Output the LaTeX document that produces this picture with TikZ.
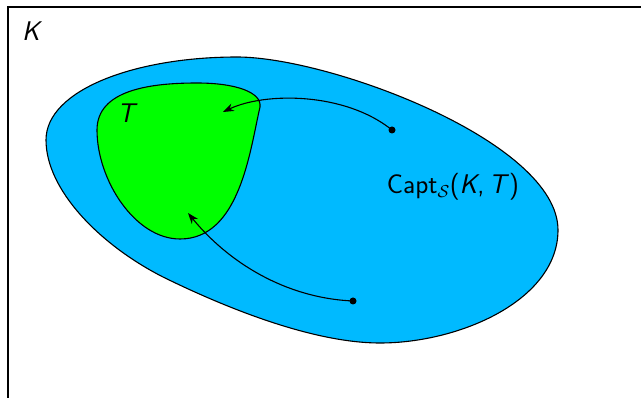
\documentclass[tikz,border=0pt]{standalone}
\usetikzlibrary{arrows.meta}
\definecolor{kblue}{RGB}{0,186,255}
\definecolor{tgreen}{RGB}{0,255,0}
\begin{document}
\begin{tikzpicture}[x=1pt,y=-1pt,
  region/.style={draw=black,line width=1.1pt},
  lbl/.style={font=\fontsize{27}{32}\selectfont\sffamily},
  arr/.style={line width=1.1pt,-{Stealth[length=11pt,width=8pt]}},
  pt/.style={circle,fill=black,inner sep=0pt,minimum size=7pt}]
\useasboundingbox (0,0) rectangle (641,398);
\begin{scope}
\clip (0,0) rectangle (641,398);
\draw[line width=1.2pt] (8,7) rectangle (700,450);
\end{scope}
\node[lbl] (k) at (31,31) {\itshape K};
\draw[region,fill=kblue] (46,140)
  .. controls (46,90) and (135,57) .. (237,57)
  .. controls (330,57) and (558,142) .. (558,230)
  .. controls (558,300) and (460,343) .. (380,343)
  .. controls (310,343) and (220,305) .. (163,277)
  .. controls (100,245) and (46,190) .. cycle;
\draw[region,fill=tgreen] (97,130)
  .. controls (97,90) and (150,83) .. (197,83)
  .. controls (235,83) and (262,92) .. (260,107)
  .. controls (250,150) and (240,239) .. (180,239)
  .. controls (135,239) and (97,180) .. cycle;
\node[lbl] (t) at (126,113) {\itshape T};
\node[lbl] (capt) at (453,187) {Capt$_{\mathcal S}$(\textit{K},\,\textit{T})};
\node[pt] (d1) at (392,130) {};
\node[pt] (d2) at (353,301) {};
\coordinate (e1) at (223,112);
\coordinate (e2) at (188,213);
\draw[arr] (d1.center) .. controls (345,92) and (265,92) .. (e1);
\draw[arr] (d2.center) .. controls (285,298) and (228,262) .. (e2);
\end{tikzpicture}
\end{document}
